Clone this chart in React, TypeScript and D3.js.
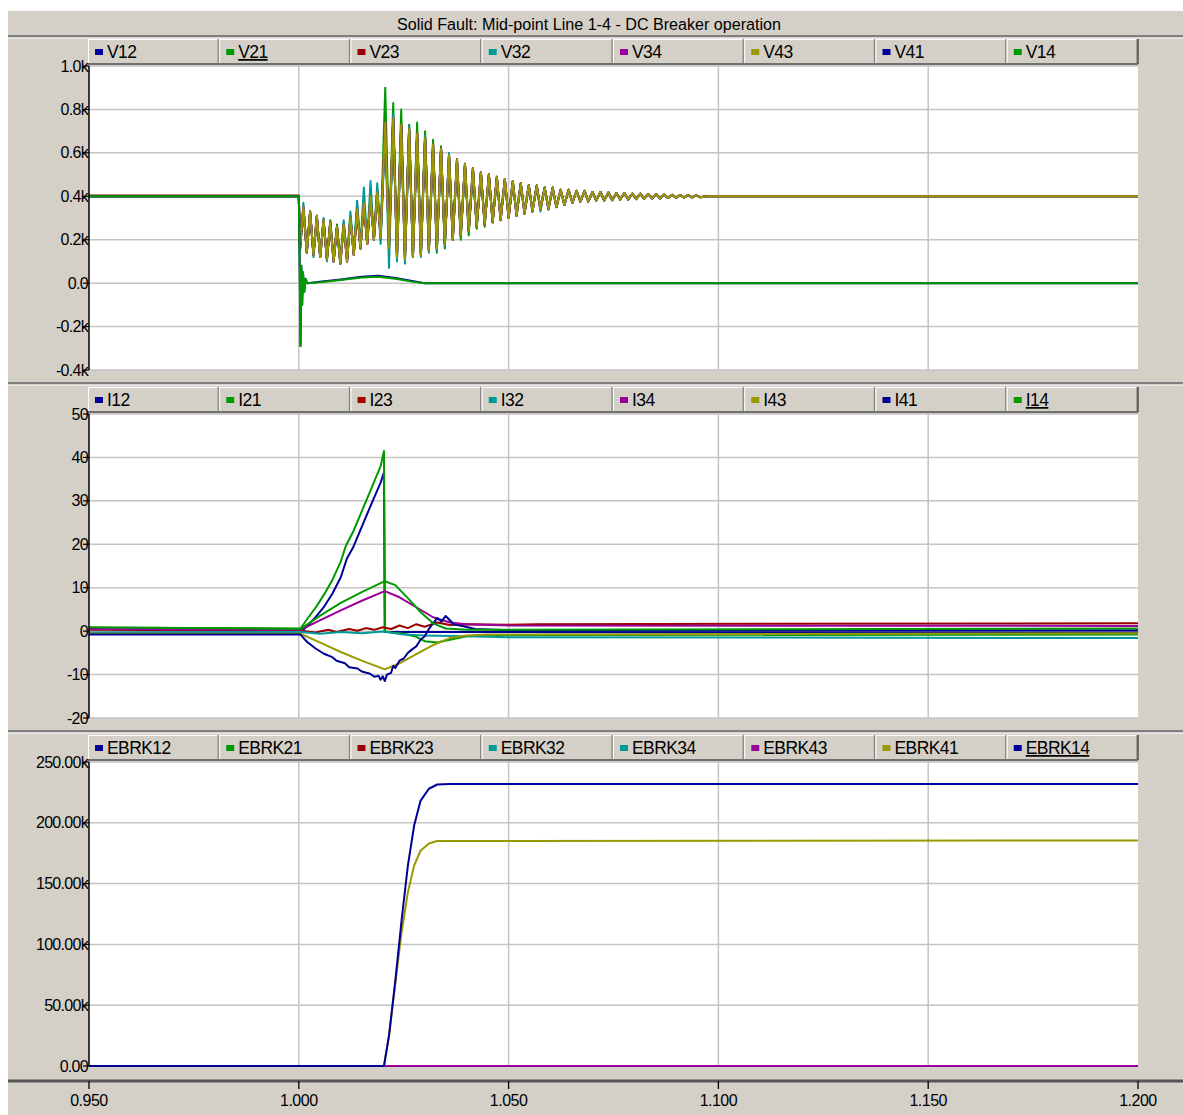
import React from 'react';
import * as d3 from 'd3';

type Pt = [number, number];

// ---- axes ----
const X_TICKS = [0.95, 1.0, 1.05, 1.1, 1.15, 1.2];
const X_TICK_LABELS = ['0.950', '1.000', '1.050', '1.100', '1.150', '1.200'];

const V_TICKS = [-0.4, -0.2, 0, 0.2, 0.4, 0.6, 0.8, 1.0];
const V_TICK_LABELS = ['-0.4k', '-0.2k', '0.0', '0.2k', '0.4k', '0.6k', '0.8k', '1.0k'];
const I_TICKS = [-20, -10, 0, 10, 20, 30, 40, 50];
const I_TICK_LABELS = ['-20', '-10', '0', '10', '20', '30', '40', '50'];
const E_TICKS = [0, 50, 100, 150, 200, 250];
const E_TICK_LABELS = ['0.00', '50.00k', '100.00k', '150.00k', '200.00k', '250.00k'];

const TITLE = 'Solid Fault:  Mid-point Line 1-4 - DC Breaker operation';

// ---- legends ----
const NAVY = '#000099';
const GREEN = '#009900';
const RED = '#990000';
const TEAL = '#009999';
const MAGENTA = '#990099';
const OLIVE = '#999900';

const V_NAMES = ['V12', 'V21', 'V23', 'V32', 'V34', 'V43', 'V41', 'V14'];
const V_COLORS = [NAVY, GREEN, RED, TEAL, MAGENTA, OLIVE, NAVY, GREEN];
const I_NAMES = ['I12', 'I21', 'I23', 'I32', 'I34', 'I43', 'I41', 'I14'];
const I_COLORS = [NAVY, GREEN, RED, TEAL, MAGENTA, OLIVE, NAVY, GREEN];
const E_NAMES = ['EBRK12', 'EBRK21', 'EBRK23', 'EBRK32', 'EBRK34', 'EBRK43', 'EBRK41', 'EBRK14'];
const E_COLORS = [NAVY, GREEN, RED, TEAL, TEAL, MAGENTA, OLIVE, NAVY];

// ---- voltage data (kV/1000), extremes of the oscillation after the fault ----
const T_HEAD = [
  1.0003, 1.0011, 1.0019, 1.0027, 1.0035, 1.0043, 1.0051, 1.0059, 1.0067, 1.0075, 1.0083, 1.0091, 1.0099,
  1.0107, 1.0115, 1.0123, 1.0131, 1.0139, 1.0147, 1.0155, 1.0163, 1.0171, 1.0179, 1.0187, 1.0195,
  1.0206, 1.0215, 1.0225, 1.0234, 1.0244, 1.0253, 1.0263, 1.0272, 1.0282, 1.0291, 1.0301, 1.0310,
  1.0320, 1.0329, 1.0339, 1.0348, 1.0358, 1.0367,
  1.0377, 1.0386, 1.0396, 1.0405, 1.0415, 1.0424, 1.0434, 1.0443, 1.0453, 1.0462, 1.0472, 1.0481, 1.0491, 1.0500,
  1.0510, 1.0519, 1.0529, 1.0538, 1.0548, 1.0557, 1.0567, 1.0576, 1.0586, 1.0595, 1.0605, 1.0614, 1.0624, 1.0633,
];
const T_TAIL = [
  1.0643, 1.0652, 1.0662, 1.0671, 1.0681, 1.0690, 1.0700, 1.0709, 1.0719, 1.0728, 1.0738, 1.0747,
  1.0757, 1.0766, 1.0776, 1.0785, 1.0795, 1.0804, 1.0814, 1.0823, 1.0833, 1.0842, 1.0852, 1.0861,
  1.0871, 1.0880, 1.0890, 1.0899, 1.0909, 1.0918, 1.0928, 1.0937, 1.0947, 1.0956,
];
const VA_HEAD = [
  0.16, 0.35, 0.14, 0.33, 0.13, 0.31, 0.12, 0.29, 0.11, 0.28, 0.10, 0.26, 0.09,
  0.27, 0.10, 0.30, 0.13, 0.34, 0.16, 0.37, 0.18, 0.40, 0.20, 0.42, 0.21,
  0.74, 0.16, 0.76, 0.12, 0.73, 0.11, 0.71, 0.12, 0.69, 0.13, 0.67, 0.15, 0.64, 0.16, 0.62, 0.18, 0.59, 0.20,
  0.57, 0.22, 0.55, 0.24, 0.53, 0.26, 0.51, 0.27, 0.50, 0.28, 0.49, 0.29, 0.48, 0.30,
  0.47, 0.31, 0.46, 0.32, 0.45, 0.33, 0.45, 0.34, 0.44, 0.34, 0.44, 0.35, 0.43, 0.36,
];
const VB_HEAD = [
  0.17, 0.33, 0.15, 0.32, 0.13, 0.30, 0.12, 0.28, 0.11, 0.29, 0.11, 0.27, 0.10,
  0.28, 0.12, 0.31, 0.14, 0.35, 0.16, 0.38, 0.19, 0.41, 0.21, 0.43, 0.22,
  0.90, 0.20, 0.83, 0.14, 0.80, 0.15, 0.73, 0.14, 0.74, 0.15, 0.70, 0.17, 0.66, 0.14, 0.63, 0.16, 0.58, 0.22,
  0.55, 0.20, 0.54, 0.22, 0.52, 0.25, 0.51, 0.26, 0.50, 0.28, 0.48, 0.30, 0.47, 0.31,
  0.46, 0.32, 0.46, 0.33, 0.45, 0.34, 0.44, 0.34, 0.44, 0.35, 0.43, 0.35, 0.43, 0.36,
];
const VC_HEAD = [
  0.15, 0.37, 0.14, 0.33, 0.12, 0.30, 0.12, 0.30, 0.10, 0.27, 0.10, 0.25, 0.09,
  0.29, 0.11, 0.33, 0.14, 0.38, 0.17, 0.44, 0.19, 0.47, 0.20, 0.46, 0.18,
  0.70, 0.07, 0.78, 0.10, 0.70, 0.09, 0.72, 0.12, 0.66, 0.12, 0.68, 0.14, 0.62, 0.15, 0.60, 0.17, 0.60, 0.21,
  0.56, 0.22, 0.53, 0.25, 0.52, 0.26, 0.50, 0.28, 0.49, 0.29, 0.48, 0.30, 0.47, 0.31,
  0.47, 0.32, 0.46, 0.32, 0.45, 0.33, 0.45, 0.33, 0.44, 0.34, 0.44, 0.35, 0.43, 0.36,
];
const V_TAIL = [
  0.43, 0.37, 0.425, 0.375, 0.425, 0.375, 0.42, 0.38, 0.42, 0.38, 0.418, 0.382,
  0.415, 0.385, 0.415, 0.385, 0.413, 0.387, 0.412, 0.388, 0.41, 0.39, 0.41, 0.39,
  0.408, 0.392, 0.407, 0.393, 0.406, 0.394, 0.405, 0.395, 0.404, 0.396,
];
const V_PRE: Pt[] = [[0.95, 0.4], [1.0, 0.4]];
const V_POST: Pt[] = [[1.0975, 0.4], [1.2, 0.4]];
const V_PRE_RED: Pt[] = [[0.95, 0.404], [1.0, 0.404]];

// faulted line voltages (go to zero)
const V41: Pt[] = [
  [0.95, 0.4], [1.0, 0.4], [1.0002, 0.12], [1.0004, -0.29], [1.0006, 0.08], [1.0008, -0.1], [1.001, 0.05],
  [1.0013, -0.04], [1.0016, 0.02], [1.002, 0.0], [1.005, 0.006], [1.01, 0.017], [1.015, 0.03], [1.019, 0.034],
  [1.023, 0.024], [1.027, 0.01], [1.03, 0.0], [1.2, 0.0],
];
const V14: Pt[] = [
  [0.95, 0.4], [1.0, 0.4], [1.0002, 0.12], [1.0004, -0.29], [1.0006, 0.08], [1.0008, -0.1], [1.001, 0.05],
  [1.0013, -0.04], [1.0016, 0.02], [1.002, 0.0], [1.005, 0.004], [1.01, 0.014], [1.015, 0.026], [1.019, 0.029],
  [1.023, 0.02], [1.027, 0.007], [1.03, 0.0], [1.2, 0.0],
];

// ---- current data (A) ----
const I12: Pt[] = [
  [0.95, -0.4], [1.0004, -0.3], [1.002, 1.2], [1.004, 3.2], [1.006, 5.6], [1.008, 8.6], [1.010, 12.4],
  [1.0115, 16.8], [1.013, 19.4], [1.015, 24.0], [1.017, 28.6], [1.0195, 34.2], [1.0203, 36.6],
  [1.0205, -0.2], [1.2, -0.3],
];
const I21: Pt[] = [
  [0.95, 0.8], [1.0004, 0.6], [1.002, 2.8], [1.004, 5.4], [1.006, 8.4], [1.008, 11.8], [1.010, 16.0],
  [1.0112, 19.6], [1.013, 23.0], [1.015, 27.6], [1.017, 32.2], [1.0195, 38.0], [1.0203, 41.5],
  [1.0205, 0.0], [1.022, -0.3], [1.025, -0.6], [1.028, -1.3], [1.030, -2.3], [1.033, -2.6], [1.036, -2.0],
  [1.040, -1.2], [1.05, -0.9], [1.2, -0.8],
];
const I23: Pt[] = [
  [0.95, 0.3], [1.0004, 0.1], [1.004, -0.3], [1.007, 0.3], [1.009, -0.2], [1.012, 0.5], [1.014, 0.1],
  [1.016, 0.7], [1.018, 0.3], [1.020, 0.9], [1.022, 0.5], [1.024, 1.3], [1.026, 0.7], [1.028, 1.6],
  [1.030, 1.0], [1.033, 2.0], [1.036, 1.4], [1.040, 1.6], [1.050, 1.5], [1.057, 1.6], [1.2, 1.8],
];
const I32: Pt[] = [
  [0.95, -0.3], [1.0004, -0.2], [1.005, -0.6], [1.010, -0.2], [1.015, -0.5], [1.020, -0.1], [1.025, -0.8],
  [1.030, -1.0], [1.040, -1.2], [1.050, -1.4], [1.2, -1.6],
];
const I34: Pt[] = [
  [0.95, 0.5], [1.0004, 0.3], [1.005, 2.5], [1.010, 4.8], [1.015, 7.0], [1.0205, 9.2], [1.024, 7.8],
  [1.028, 5.5], [1.032, 3.2], [1.036, 2.0], [1.040, 1.6], [1.050, 1.3], [1.2, 1.2],
];
const I43: Pt[] = [
  [0.95, -0.6], [1.0004, -0.6], [1.005, -2.6], [1.010, -4.8], [1.015, -6.8], [1.0205, -8.8], [1.024, -7.4],
  [1.028, -5.3], [1.032, -3.2], [1.036, -1.6], [1.040, -1.0], [1.045, -0.8], [1.2, -0.5],
];
const I41: Pt[] = [
  [0.95, -0.8], [1.0004, -0.8], [1.002, -2.5], [1.004, -4.0], [1.006, -5.2], [1.008, -6.0], [1.009, -6.8],
  [1.011, -7.4], [1.012, -8.3], [1.014, -8.6], [1.015, -9.3], [1.017, -9.8], [1.018, -10.5], [1.019, -10.3],
  [1.0195, -11.2], [1.0200, -10.4], [1.0205, -11.5], [1.021, -10.0], [1.022, -9.6], [1.0225, -8.0],
  [1.023, -8.5], [1.024, -6.8], [1.025, -6.3], [1.026, -5.0], [1.027, -4.2], [1.028, -3.5], [1.029, -2.0],
  [1.030, -1.2], [1.031, 0.5], [1.032, 1.8], [1.033, 3.0], [1.034, 2.2], [1.035, 3.5], [1.036, 2.5],
  [1.037, 1.5], [1.039, 1.2], [1.042, 0.5], [1.050, 0.2], [1.2, 0.2],
];
const I14: Pt[] = [
  [0.95, 0.9], [1.0004, 0.5], [1.005, 3.5], [1.010, 6.5], [1.015, 9.0], [1.0205, 11.5], [1.023, 10.6],
  [1.026, 7.6], [1.029, 4.4], [1.032, 1.8], [1.035, 0.6], [1.040, 0.3], [1.2, 0.6],
];

// ---- breaker energy (kJ) ----
const E_ZERO: Pt[] = [[0.95, 0], [1.2, 0]];
const EBRK14: Pt[] = [
  [0.95, 0], [1.0203, 0], [1.0215, 25], [1.023, 70], [1.0245, 120], [1.026, 165], [1.0275, 198],
  [1.029, 218], [1.031, 228], [1.033, 231.5], [1.036, 232], [1.2, 232],
];
const EBRK41: Pt[] = [
  [0.95, 0], [1.0203, 0], [1.0215, 25], [1.023, 68], [1.0245, 110], [1.026, 143], [1.0275, 165],
  [1.029, 177], [1.031, 183], [1.033, 185], [1.2, 185.5],
];

const zip = (ts: number[], vs: number[]): Pt[] => ts.map((t, i) => [t, vs[i]] as Pt);
const oscSeries = (pre: Pt[], head: number[]): Pt[] => [
  ...pre, ...zip(T_HEAD, head), ...zip(T_TAIL, V_TAIL), ...V_POST,
];

const V_SERIES: Pt[][] = [
  oscSeries(V_PRE, VA_HEAD), oscSeries(V_PRE, VB_HEAD), oscSeries(V_PRE_RED, VA_HEAD), oscSeries(V_PRE, VC_HEAD),
  oscSeries(V_PRE, VA_HEAD), oscSeries(V_PRE, VA_HEAD), V41, V14,
];
const I_SERIES: Pt[][] = [I12, I21, I23, I32, I34, I43, I41, I14];
const E_SERIES: Pt[][] = [E_ZERO, E_ZERO, E_ZERO, E_ZERO, E_ZERO, E_ZERO, EBRK41, EBRK14];

// ---- layout ----
const W = 1183;
const H = 1115;
const X0 = 89;
const X1 = 1138;
const BG = '#d4d0c8';
const FONT = "'Liberation Sans', Arial, sans-serif";

const x = d3.scaleLinear().domain([0.95, 1.2]).range([X0, X1]);
const legendX = d3.scaleLinear().domain([0, 8]).range([X0 - 1, X1]);

interface PanelProps {
  id: string;
  top: number;
  bottom: number;
  domain: [number, number];
  ticks: number[];
  labels: string[];
  names: string[];
  colors: string[];
  series: Pt[][];
  underlined: number;
}

const Panel: React.FC<PanelProps> = ({ id, top, bottom, domain, ticks, labels, names, colors, series, underlined }) => {
  const y = d3.scaleLinear().domain(domain).range([bottom, top]);
  const line = d3.line<Pt>().x(d => x(d[0])).y(d => y(d[1]));
  const lTop = top - 27;
  const lH = 25;
  return (
    <g>
      <defs>
        <clipPath id={`clip-${id}`}>
          <rect x={X0} y={top - 1} width={X1 - X0} height={bottom - top + 2} />
        </clipPath>
      </defs>
      {/* legend bar */}
      {names.map((n, i) => {
        const cx = legendX(i);
        const cw = legendX(i + 1) - cx;
        return (
          <g key={n}>
            <rect x={cx} y={lTop} width={cw} height={lH} fill={BG} />
            <line x1={cx + 0.5} x2={cx + 0.5} y1={lTop} y2={lTop + lH} stroke="#ffffff" strokeWidth={1} />
            <line x1={cx} x2={cx + cw} y1={lTop + 0.5} y2={lTop + 0.5} stroke="#ffffff" strokeWidth={1} />
            <line x1={cx + cw - 1} x2={cx + cw - 1} y1={lTop} y2={lTop + lH} stroke="#808080" strokeWidth={1.2} />
            <rect x={cx + 7} y={lTop + 10} width={8} height={6} fill={colors[i]} />
            <text x={cx + 19} y={lTop + 19} fontSize={17.5} letterSpacing={-0.6} fontFamily={FONT} fill="#000"
              textDecoration={i === underlined ? 'underline' : undefined}>
              {n}
            </text>
          </g>
        );
      })}
      <line x1={X0 - 1} x2={X1} y1={lTop + lH} y2={lTop + lH} stroke="#707070" strokeWidth={2} />
      <line x1={X1} x2={X1} y1={lTop} y2={lTop + lH} stroke="#505050" strokeWidth={1.5} />
      {/* plot area */}
      <rect x={X0} y={top} width={X1 - X0} height={bottom - top} fill="#ffffff" />
      {ticks.map(t => (
        <line key={`h${t}`} x1={X0} x2={X1} y1={y(t)} y2={y(t)} stroke="#c4c4c4" strokeWidth={1.5} />
      ))}
      {X_TICKS.slice(1, -1).map(t => (
        <line key={`v${t}`} x1={x(t)} x2={x(t)} y1={top} y2={bottom} stroke="#c4c4c4" strokeWidth={1.5} />
      ))}
      <g clipPath={`url(#clip-${id})`}>
        {series.map((s, i) => (
          <path key={names[i]} d={line(s) ?? ''} fill="none" stroke={colors[i]} strokeWidth={2}
            strokeLinejoin="round" />
        ))}
      </g>
      {/* y axis */}
      <line x1={X0} x2={X0} y1={top} y2={bottom} stroke="#000" strokeWidth={1.5} />
      {ticks.map((t, i) => (
        <g key={`t${t}`}>
          <text x={88} y={y(t) + 5.5} textAnchor="end" fontSize={16} letterSpacing={-0.7} fontFamily={FONT} fill="#000">
            {labels[i]}
          </text>
          <line x1={83} x2={X0} y1={y(t)} y2={y(t)} stroke="#000" strokeWidth={1.2} />
        </g>
      ))}
    </g>
  );
};

const Separator: React.FC<{ y: number }> = ({ y }) => (
  <g>
    <rect x={8} y={y - 1} width={W - 8} height={2.5} fill="#808080" />
    <rect x={8} y={y + 1.5} width={W - 8} height={1} fill="#ffffff" />
  </g>
);

export default function App() {
  return (
    <div style={{ position: 'absolute', left: 0, top: 0 }}>
      <svg width={W} height={H} style={{ display: 'block' }}>
        <rect x={0} y={0} width={W} height={H} fill="#ffffff" />
        <rect x={8} y={11} width={W - 8} height={H - 11} fill={BG} />
        <text x={589} y={30} textAnchor="middle" fontSize={16} fontFamily={FONT} fill="#000"
          textLength={384} lengthAdjust="spacingAndGlyphs">
          {TITLE}
        </text>
        <Separator y={36} />
        <Panel id="v" top={66} bottom={370} domain={[-0.4, 1.0]} ticks={V_TICKS} labels={V_TICK_LABELS}
          names={V_NAMES} colors={V_COLORS} series={V_SERIES} underlined={1} />
        <Separator y={383} />
        <Panel id="i" top={414} bottom={718} domain={[-20, 50]} ticks={I_TICKS} labels={I_TICK_LABELS}
          names={I_NAMES} colors={I_COLORS} series={I_SERIES} underlined={7} />
        <Separator y={731} />
        <Panel id="e" top={762} bottom={1066} domain={[0, 250]} ticks={E_TICKS} labels={E_TICK_LABELS}
          names={E_NAMES} colors={E_COLORS} series={E_SERIES} underlined={7} />
        {/* time axis */}
        <rect x={8} y={1079.5} width={W - 8} height={3} fill="#555555" />
        {X_TICKS.map((t, i) => (
          <g key={t}>
            <line x1={x(t)} x2={x(t)} y1={1081} y2={1089} stroke="#000" strokeWidth={1.3} />
            <text x={x(t)} y={1106} textAnchor="middle" fontSize={16} letterSpacing={-0.5} fontFamily={FONT} fill="#000">
              {X_TICK_LABELS[i]}
            </text>
          </g>
        ))}
      </svg>
    </div>
  );
}
